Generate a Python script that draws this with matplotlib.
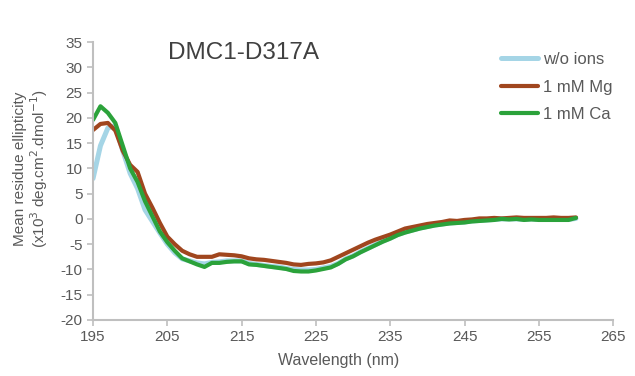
import matplotlib
matplotlib.use('Agg')
import matplotlib.pyplot as plt
import numpy as np

plt.rcParams['font.family'] = ['Liberation Sans', 'DejaVu Sans']
plt.rcParams['axes.unicode_minus'] = False

# wavelength, 1 nm steps
wavelength = np.arange(195, 261)

wo_ions = [8.0, 14.5, 18.0, 18.5, 13.5, 9.0, 6.0, 1.8, -0.5, -2.8,
           -5.0, -6.7, -7.9, -8.3, -8.7, -8.9, -8.6, -8.5, -8.3, -8.3,
           -8.3, -8.8, -9.0, -9.2, -9.4, -9.5, -9.8, -10.0, -10.1, -10.1,
           -10.0, -9.7, -9.4, -8.8, -7.9, -7.3, -6.5, -5.8, -5.1, -4.4,
           -3.8, -3.1, -2.6, -2.2, -1.8, -1.5, -1.2, -1.0, -0.8, -0.7,
           -0.6, -0.4, -0.3, -0.2, -0.1, 0.0, 0.0, 0.0, -0.1, 0.0,
           -0.1, -0.1, -0.1, -0.1, -0.1, 0.1]

mg = [17.6, 18.8, 19.0, 17.5, 13.5, 10.7, 9.3, 5.0, 2.2, -0.8,
      -3.5, -5.0, -6.3, -7.0, -7.5, -7.5, -7.5, -7.0, -7.1, -7.2,
      -7.4, -7.8, -8.0, -8.1, -8.3, -8.5, -8.7, -9.0, -9.1, -8.9,
      -8.8, -8.6, -8.2, -7.5, -6.8, -6.1, -5.4, -4.7, -4.1, -3.6,
      -3.1, -2.5, -1.9, -1.6, -1.3, -1.0, -0.8, -0.6, -0.3, -0.4,
      -0.2, -0.1, 0.1, 0.1, 0.2, 0.1, 0.2, 0.3, 0.2, 0.2,
      0.2, 0.2, 0.3, 0.2, 0.2, 0.3]

ca = [19.6, 22.3, 21.0, 19.0, 14.5, 10.0, 7.3, 3.5, 0.5, -2.5,
      -4.6, -6.3, -7.8, -8.4, -9.0, -9.5, -8.7, -8.7, -8.5, -8.4,
      -8.4, -9.0, -9.1, -9.3, -9.5, -9.7, -9.9, -10.3, -10.4, -10.4,
      -10.2, -9.9, -9.6, -8.9, -8.0, -7.4, -6.6, -5.9, -5.2, -4.5,
      -3.9, -3.2, -2.7, -2.3, -1.9, -1.6, -1.3, -1.1, -0.9, -0.8,
      -0.7, -0.5, -0.4, -0.3, -0.2, 0.0, -0.1, 0.0, -0.2, -0.1,
      -0.2, -0.2, -0.2, -0.2, -0.2, 0.2]

fig = plt.figure(figsize=(6.35, 3.76), dpi=100)
ax = fig.add_axes([0.1465, 0.149, 0.819, 0.739])

ax.plot(wavelength, wo_ions, color='#a5d5e6', lw=3.6, label='w/o ions', solid_capstyle='round')
ax.plot(wavelength, mg, color='#a0461e', lw=3.0, label='1 mM Mg', solid_capstyle='round')
ax.plot(wavelength, ca, color='#2ba23a', lw=3.0, label='1 mM Ca', solid_capstyle='round')

ax.set_xlim(195, 265)
ax.set_ylim(-20, 35)
ax.set_xticks(np.arange(195, 266, 10))
ax.set_yticks(np.arange(-20, 36, 5))

for s in ['top', 'right']:
    ax.spines[s].set_visible(False)
for s in ['left', 'bottom']:
    ax.spines[s].set_color('#bfbfbf')
    ax.spines[s].set_linewidth(1.5)
ax.tick_params(colors='#bfbfbf', labelcolor='#595959', labelsize=11,
               length=4, width=1.2, direction='out')

ax.text(0.144, 0.96, 'DMC1-D317A', transform=ax.transAxes, fontsize=17.5,
        color='#404040', va='center', ha='left')

leg = ax.legend(loc='upper left', bbox_to_anchor=(0.765, 1.0), frameon=False,
                fontsize=12, handlelength=2.2, handletextpad=0.3,
                labelspacing=0.75, borderaxespad=0.2)
for t in leg.get_texts():
    t.set_color('#595959')

fig.text(0.534, 0.02, 'Wavelength (nm)', ha='center', va='bottom',
         fontsize=11.5, color='#595959')
fig.text(0.05, 0.55, 'Mean residue ellipticity\n(x10$^3$ deg.cm$^2$.dmol$^{-1}$)',
         rotation=90, ha='center', va='center', fontsize=11,
         color='#595959', linespacing=1.1)

fig.savefig('out.png', dpi=100)
